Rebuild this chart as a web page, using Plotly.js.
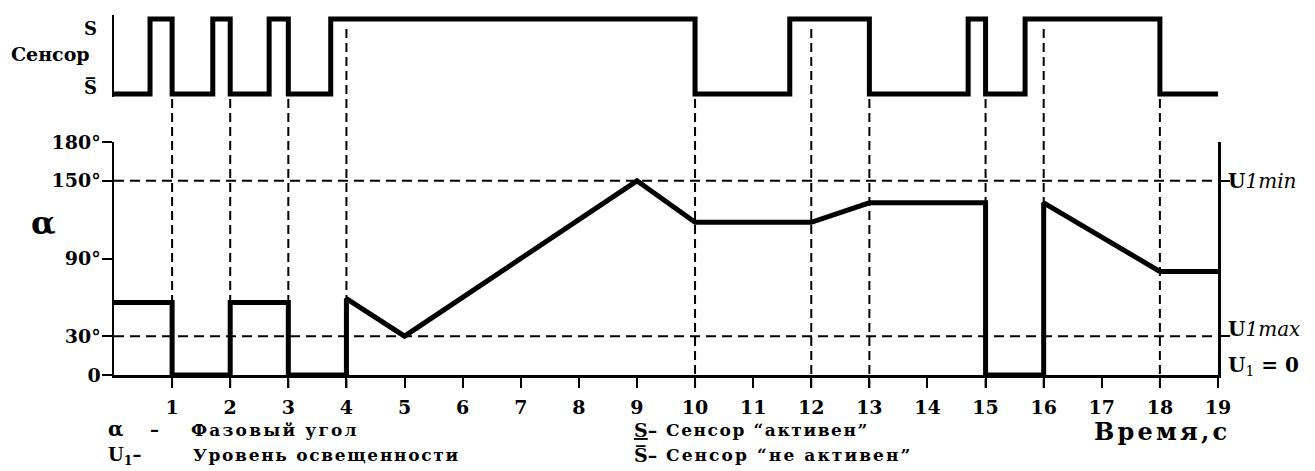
<!DOCTYPE html>
<html>
<head>
<meta charset="utf-8">
<script src="https://cdn.plot.ly/plotly-3.0.1.min.js"></script>
<style>html,body{margin:0;padding:0;background:#fff;}#chart{width:1315px;height:471px;}</style>
</head>
<body>
<div id="chart"></div>
<script>
// ---- data ----
const sensorTime  = [0, 0.62, 0.62, 1, 1, 1.70, 1.70, 2, 2, 2.67, 2.67, 3, 3, 3.73, 3.73, 10, 10, 11.63, 11.63, 13, 13, 14.70, 14.70, 15, 15, 15.68, 15.68, 18, 18, 19];
const sensorState = [0, 0, 1, 1, 0, 0, 1, 1, 0, 0, 1, 1, 0, 0, 1, 1, 0, 0, 1, 1, 0, 0, 1, 1, 0, 0, 1, 1, 0, 0];
const alphaTime   = [0, 1, 1, 2, 2, 3, 3, 4, 4, 5, 9, 10, 12, 13, 15, 15, 16, 16, 18, 19];
const alphaDeg    = [56, 56, 0, 0, 56, 56, 0, 0, 59, 30, 150, 118, 118, 133, 133, 0, 0, 133, 80, 80];
const markTimes     = [1, 2, 3, 4, 10, 12, 13, 15, 16, 18];
const fullMarkTimes = [4, 12, 16];
const levelDeg      = [30, 150];
const xTickVals  = [1, 2, 3, 4, 5, 6, 7, 8, 9, 10, 11, 12, 13, 14, 15, 16, 17, 18, 19];
const xTickText  = ['1','2','3','4','5','6','7','8','9','10','11','12','13','14','15','16','17','18','19'];
const yTickVals  = [0, 30, 90, 150, 180];
const yTickText  = ['0', '30°', '90°', '150°', '180°'];
const sensorTickText = ['S', 'S\u0305'];
const rightLabels = ['<b>U</b><i>1min</i>', '<b>U</b><i>1max</i>', '<b>U</b><sub>1</sub><b> = 0</b>'];
const rightLabelVals = [150, 30, 0];

// ---- layout helpers ----
const SERIF = 'DejaVu Serif, serif';
const plotTop = 10, plotBottom = 385, plotH = plotBottom - plotTop;
const py = p => (plotBottom - p) / plotH;           // pixel row -> paper y
const px = p => (p - 114) / 1104;                   // pixel col -> paper x
const sp = (t, s) => '<span style="letter-spacing:' + s + 'px">' + t + '</span>';

const traces = [
  {x: sensorTime, y: sensorState, xaxis: 'x', yaxis: 'y2', mode: 'lines',
   line: {color: '#000', width: 5, shape: 'linear'}, hoverinfo: 'skip'},
  {x: alphaTime, y: alphaDeg, xaxis: 'x', yaxis: 'y', mode: 'lines',
   line: {color: '#000', width: 5, shape: 'linear'}, hoverinfo: 'skip'}
];

const shapes = [];
markTimes.forEach(t => {
  const full = fullMarkTimes.indexOf(t) >= 0;
  shapes.push({type: 'line', xref: 'x', yref: 'paper', x0: t, x1: t,
    y0: py(388), y1: full ? py(24) : py(97),
    line: {color: '#000', width: 2, dash: '9px,5px'}, layer: 'below'});
});
levelDeg.forEach(v => {
  shapes.push({type: 'line', xref: 'x', yref: 'y', x0: 0, x1: 19, y0: v, y1: v,
    line: {color: '#000', width: 2, dash: '10px,6px'}, layer: 'below'});
});
// hook at top of right axis
shapes.push({type: 'line', xref: 'x', yref: 'y', xsizemode: 'pixel', xanchor: 19, x0: 0, x1: 9,
  y0: 180, y1: 180, line: {color: '#000', width: 2}});

const ann = [];
const A = (o) => ann.push(Object.assign({showarrow: false, font: {family: SERIF, size: 18, color: '#000'}}, o));
// sensor panel labels
A({xref: 'paper', yref: 'paper', x: px(90), y: py(28), text: '<b>' + sensorTickText[0] + '</b>', xanchor: 'center', yanchor: 'middle'});
A({xref: 'paper', yref: 'paper', x: px(90), y: py(87), text: '<b>' + sensorTickText[1] + '</b>', xanchor: 'center', yanchor: 'middle'});
A({xref: 'paper', yref: 'paper', x: px(50), y: py(54), text: '<b>Сенсор</b>', xanchor: 'center', yanchor: 'middle', font: {family: SERIF, size: 19, color: '#000'}});
// alpha axis label
A({xref: 'paper', yref: 'paper', x: px(43), y: py(223), text: '<b>α</b>', xanchor: 'center', yanchor: 'middle', font: {family: SERIF, size: 32, color: '#000'}});
// right-side labels
rightLabels.forEach((t, i) => {
  A({xref: 'paper', yref: 'y', x: px(1226), y: rightLabelVals[i], yshift: i === 0 ? 0 : (i === 1 ? 7 : 9),
     text: t, xanchor: 'left', yanchor: 'middle', font: {family: SERIF, size: 20, color: '#000'}});
});
// bottom legend
A({xref: 'paper', yref: 'paper', x: px(106), y: py(429), text: '<b>α</b>', xanchor: 'left', yanchor: 'middle', font: {family: SERIF, size: 20, color: '#000'}});
A({xref: 'paper', yref: 'paper', x: px(148), y: py(429), text: '<b>–</b>', xanchor: 'left', yanchor: 'middle', font: {family: SERIF, size: 18, color: '#000'}});
A({xref: 'paper', yref: 'paper', x: px(189), y: py(430), text: '<b>' + sp('Фазовый угол', 2.2) + '</b>', xanchor: 'left', yanchor: 'middle', font: {family: SERIF, size: 17, color: '#000'}});
A({xref: 'paper', yref: 'paper', x: px(106), y: py(456), text: '<b>U<sub>1</sub>–</b>', xanchor: 'left', yanchor: 'middle', font: {family: SERIF, size: 18, color: '#000'}});
A({xref: 'paper', yref: 'paper', x: px(191), y: py(455), text: '<b>' + sp('Уровень освещенности', 1.7) + '</b>', xanchor: 'left', yanchor: 'middle', font: {family: SERIF, size: 17, color: '#000'}});
A({xref: 'paper', yref: 'paper', x: px(632), y: py(430), text: '<b><u>S</u>–</b>', xanchor: 'left', yanchor: 'middle', font: {family: SERIF, size: 19, color: '#000'}});
A({xref: 'paper', yref: 'paper', x: px(664), y: py(430), text: '<b>' + sp('Сенсор “активен”', 1.6) + '</b>', xanchor: 'left', yanchor: 'middle', font: {family: SERIF, size: 17, color: '#000'}});
A({xref: 'paper', yref: 'paper', x: px(632), y: py(455), text: '<b>' + sensorTickText[1] + '–</b>', xanchor: 'left', yanchor: 'middle', font: {family: SERIF, size: 19, color: '#000'}});
A({xref: 'paper', yref: 'paper', x: px(664), y: py(455), text: '<b>' + sp('Сенсор “не активен”', 2.1) + '</b>', xanchor: 'left', yanchor: 'middle', font: {family: SERIF, size: 17, color: '#000'}});
A({xref: 'paper', yref: 'paper', x: px(1092), y: py(431), text: '<b>' + sp('Время,с', 3.2) + '</b>', xanchor: 'left', yanchor: 'middle', font: {family: SERIF, size: 24, color: '#000'}});

const layout = {
  width: 1315, height: 471,
  margin: {l: 114, r: 97, t: plotTop, b: 471 - plotBottom, pad: 0},
  paper_bgcolor: '#fff', plot_bgcolor: 'rgba(0,0,0,0)',
  showlegend: false,
  xaxis: {range: [0, 19], anchor: 'y', showline: true, linecolor: '#000', linewidth: 2.5,
    ticks: 'outside', ticklen: 10, tickwidth: 2, tickcolor: '#000',
    tickvals: xTickVals, ticktext: xTickText, showgrid: false, zeroline: false,
    ticklabelstandoff: 4,
    tickfont: {family: SERIF, size: 19, color: '#000', weight: 'bold'}},
  yaxis: {domain: [py(375), py(142)], range: [0, 180], showline: true, linecolor: '#000', linewidth: 2.5,
    ticks: 'outside', ticklen: 10, tickwidth: 2, tickcolor: '#000',
    tickvals: yTickVals, ticktext: yTickText, showgrid: false, zeroline: false,
    ticklabelstandoff: -3,
    tickfont: {family: SERIF, size: 19, color: '#000', weight: 'bold'}},
  yaxis2: {domain: [py(97), py(15)], range: [-0.04, 1.0533], anchor: 'x', showline: true, linecolor: '#000', linewidth: 2.5,
    ticks: '', showticklabels: false, showgrid: false, zeroline: false},
  yaxis3: {overlaying: 'y', side: 'right', anchor: 'x', range: [0, 180], showline: true, linecolor: '#000', linewidth: 2.5,
    ticks: 'outside', ticklen: 9, tickwidth: 2, tickcolor: '#000', tickvals: levelDeg,
    showticklabels: false, showgrid: false, zeroline: false},
  shapes: shapes,
  annotations: ann
};

// invisible trace so the right-hand axis is drawn
traces.push({x: [19], y: [0], xaxis: 'x', yaxis: 'y3', mode: 'markers', marker: {opacity: 0}, hoverinfo: 'skip'});

Plotly.newPlot('chart', traces, layout, {staticPlot: true, displayModeBar: false});
</script>
</body>
</html>
